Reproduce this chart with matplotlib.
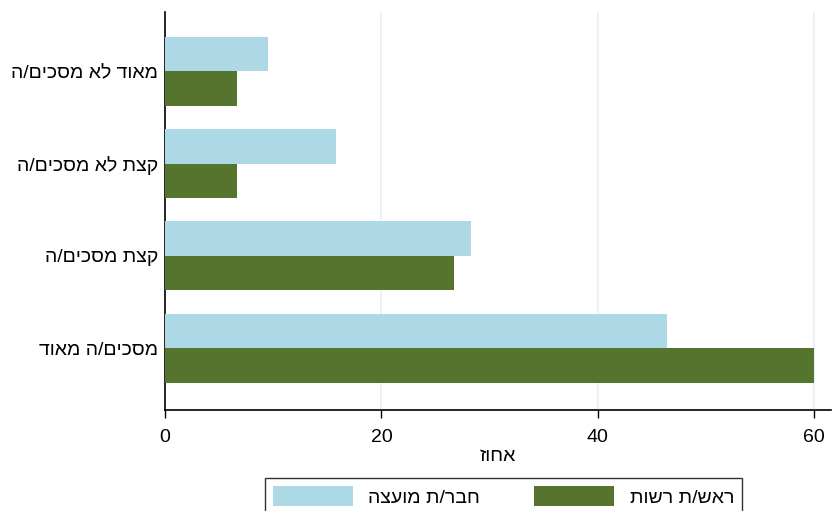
import matplotlib.pyplot as plt
import numpy as np

plt.rcParams['font.family'] = ['Liberation Sans', 'DejaVu Sans']

# matplotlib has no bidi support, so Hebrew strings are reversed for display
def heb(s):
    return s[::-1]

categories = ['מאוד לא מסכים/ה', 'קצת לא מסכים/ה', 'קצת מסכים/ה', 'מסכים/ה מאוד']
council = [9.5, 15.8, 28.3, 46.4]     # חבר/ת מועצה
heads = [6.7, 6.7, 26.7, 60.0]        # ראש/ת רשות
series_names = ['חבר/ת מועצה', 'ראש/ת רשות']
xticks = [0, 20, 40, 60]

light_blue = '#add8e6'
green = '#55752f'

fig = plt.figure(figsize=[8.32, 5.11], dpi=100)
ax = fig.add_axes([0.1983, 0.1977, 0.80, 0.7785])

y = np.arange(len(categories))
h = 0.374
ax.barh(y - h / 2, council, height=h, color=light_blue, label=heb(series_names[0]), zorder=3)
ax.barh(y + h / 2, heads, height=h, color=green, label=heb(series_names[1]), zorder=3)

ax.set_ylim(3.67, -0.64)
ax.set_xlim(0, 61.5)

ax.set_yticks(y)
ax.set_yticklabels([heb(c) for c in categories], fontsize=14)
ax.tick_params(axis='y', length=0, pad=5)

ax.set_xticks(xticks)
ax.set_xticklabels([str(t) for t in xticks], fontsize=14)
ax.tick_params(axis='x', length=6, width=1, pad=8, color='black')
ax.set_xlabel(heb('אחוז'), fontsize=14, labelpad=1)

ax.grid(axis='x', color='#eaf2f3', linewidth=1.5, zorder=0)
ax.spines['top'].set_visible(False)
ax.spines['right'].set_visible(False)
ax.spines['left'].set_linewidth(1.2)
ax.spines['bottom'].set_linewidth(1.2)

fig.legend(loc='upper center', bbox_to_anchor=(503.5 / 832, 1 - 478 / 511),
           borderaxespad=0, ncol=2, fontsize=14, frameon=True, fancybox=False,
           edgecolor='black', handlelength=4.1, handleheight=1.25,
           columnspacing=2.8, handletextpad=0.8, borderpad=0.4)

fig.savefig('out.png', dpi=100)
